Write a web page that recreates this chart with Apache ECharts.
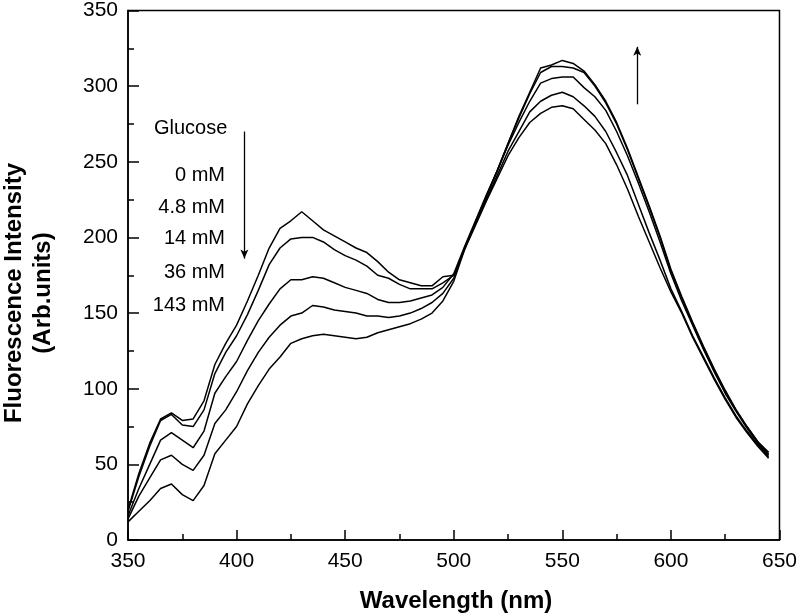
<!DOCTYPE html>
<html>
<head>
<meta charset="utf-8">
<script src="https://cdn.jsdelivr.net/npm/echarts@6/dist/echarts.min.js"></script>
<style>html,body{margin:0;padding:0;background:#fff}#c{width:800px;height:616px}</style>
</head>
<body>
<div id="c"></div>
<script>
const wavelengths = [350,355,360,365,370,375,380,385,390,395,400,405,410,415,420,425,430,435,440,445,450,455,460,465,470,475,480,485,490,495,500,505,510,515,520,525,530,535,540,545,550,555,560,565,570,575,580,585,590,595,600,605,610,615,620,625,630,635,640,645];
const seriesNames = ["0 mM","4.8 mM","14 mM","36 mM","143 mM"];
const g0   = [20,44,64,80,84,79,80,92,116,130,142,158,175,193,206,211,217,211,205,201,197,193,190,184,177,172,170,168,168,174,175,192,208,224,239,254,266,276,282,286,287,285,278,271,262,248,232,214,197,180,164,150,134,120,106,93,81,71,62,54];
const g48  = [19,42,62,79,83,76,75,86,110,124,135,149,165,182,193,199,200,200,197,192,188,185,181,175,173,169,166,166,166,170,175,193,209,225,241,257,270,283,290,294,296,293,287,280,270,256,241,222,203,185,166,151,135,121,107,94,82,72,63,55];
const g14  = [16,34,50,66,71,66,61,72,97,108,118,132,145,156,166,172,172,174,173,170,167,165,163,159,157,157,158,160,162,167,176,194,211,228,244,261,276,290,302,305,306,306,299,293,284,270,254,236,217,197,176,158,142,126,111,97,85,74,64,56];
const g36  = [14,29,41,53,56,50,46,56,77,86,98,112,124,134,142,148,150,155,154,152,151,150,148,148,147,148,150,153,157,163,173,193,210,227,244,262,279,295,309,313,313,312,309,300,289,275,258,239,220,200,178,160,143,127,112,98,86,75,65,57];
const g143 = [12,19,26,34,37,30,26,36,57,66,75,90,102,113,121,130,133,135,136,135,134,133,134,137,139,141,143,146,150,158,171,192,210,227,244,262,280,296,312,314,317,315,310,301,290,276,259,240,221,201,179,161,144,128,113,99,86,75,65,58];
const xTicks = [350,400,450,500,550,600,650];
const yTicks = [0,50,100,150,200,250,300,350];
const downArrow = [[403.6,270],[403.6,186]];
const upArrow = [[584.5,288],[584.5,326]];

const allData = [g0,g48,g14,g36,g143];
const chart = echarts.init(document.getElementById('c'), null, {renderer:'canvas'});
const FONT = '"Liberation Sans", Arial, sans-serif';
const series = allData.map((arr,i)=>({
  name: seriesNames[i],
  type:'line',
  showSymbol:false,
  symbol:'none',
  smooth:false,
  lineStyle:{color:'#000',width:1.5},
  data: wavelengths.map((w,j)=>[w,arr[j]]),
  z:3
}));
series.push({
  type:'line', data:[], silent:true,
  markLine:{
    silent:true, symbol:['none','arrow'], symbolSize:[6,9],
    label:{show:false},
    lineStyle:{color:'#000',width:1.3,type:'solid'},
    data:[
      [{coord:downArrow[0]},{coord:downArrow[1]}],
      [{coord:upArrow[0]},{coord:upArrow[1]}]
    ]
  }
});
const ann = (t,x,y,align)=>({type:'text',x:x,y:y,style:{text:t,font:'20px '+FONT,fill:'#000',textAlign:align,textVerticalAlign:'middle'}});
chart.setOption({
  animation:false,
  backgroundColor:'#fff',
  grid:{left:128,right:17,top:8,bottom:76,show:true,borderColor:'#000',borderWidth:1.5,backgroundColor:'transparent'},
  xAxis:{
    type:'value',min:350,max:650,interval:50,
    axisLine:{show:true,lineStyle:{color:'#000',width:1.5}},
    axisTick:{show:true,inside:true,length:10,lineStyle:{color:'#000',width:1.5}},
    minorTick:{show:true,splitNumber:2,length:6,lineStyle:{color:'#000',width:1.5}},
    splitLine:{show:false},
    axisLabel:{color:'#000',fontSize:21,fontFamily:FONT,margin:11,
      formatter:v=>xTicks.includes(v)?String(v):''}
  },
  yAxis:{
    type:'value',min:0,max:350,interval:50,
    axisLine:{show:true,lineStyle:{color:'#000',width:1.5}},
    axisTick:{show:true,inside:true,length:11,lineStyle:{color:'#000',width:1.5}},
    minorTick:{show:true,splitNumber:2,length:6,lineStyle:{color:'#000',width:1.5}},
    splitLine:{show:false},
    axisLabel:{color:'#000',fontSize:21,fontFamily:FONT,margin:10,
      formatter:v=>yTicks.includes(v)?String(v):''}
  },
  series:series,
  graphic:[
    {type:'text',x:456,y:601,style:{text:'Wavelength (nm)',font:'bold 24px '+FONT,fill:'#000',textAlign:'center',textVerticalAlign:'middle'}},
    {type:'text',x:14,y:293,rotation:Math.PI/2,style:{text:'Fluorescence Intensity',font:'bold 24px '+FONT,fill:'#000',textAlign:'center',textVerticalAlign:'middle'}},
    {type:'text',x:43,y:293,rotation:Math.PI/2,style:{text:'(Arb.units)',font:'bold 24px '+FONT,fill:'#000',textAlign:'center',textVerticalAlign:'middle'}},
    ann('Glucose',154,128,'left'),
    ann(seriesNames[0],225,175,'right'),
    ann(seriesNames[1],225,207,'right'),
    ann(seriesNames[2],225,238,'right'),
    ann(seriesNames[3],225,272,'right'),
    ann(seriesNames[4],225,305,'right')
  ]
});
</script>
</body>
</html>
